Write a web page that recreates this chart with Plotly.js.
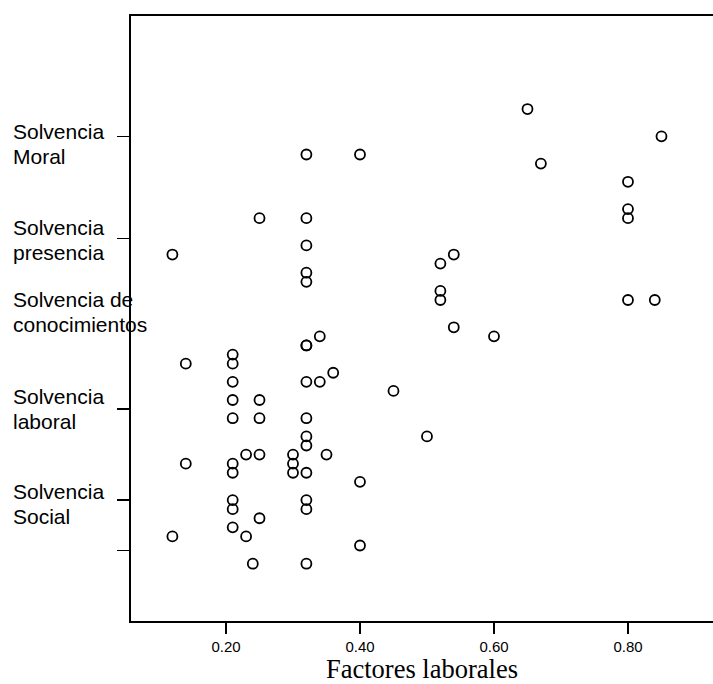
<!DOCTYPE html>
<html>
<head>
<meta charset="utf-8">
<script src="https://cdn.plot.ly/plotly-3.0.1.min.js"></script>
<style>html,body{margin:0;padding:0;background:#fff;}#chart{width:713px;height:684px;}</style>
</head>
<body>
<div id="chart"></div>
<script>
// Factores laborales (x) vs. solvencia score (y, ordinal levels)
var factoresLaborales = [
  0.65, 0.85, 0.32, 0.40, 0.67, 0.80, 0.80, 0.80, 0.25, 0.32,
  0.32, 0.12, 0.54, 0.52, 0.32, 0.32, 0.52, 0.52, 0.80, 0.84,
  0.54, 0.34, 0.60, 0.32, 0.32, 0.21, 0.14, 0.21, 0.36, 0.21,
  0.32, 0.34, 0.45, 0.21, 0.25, 0.21, 0.25, 0.32, 0.32, 0.50,
  0.32, 0.23, 0.25, 0.30, 0.35, 0.14, 0.21, 0.30, 0.21, 0.30,
  0.32, 0.40, 0.21, 0.32, 0.21, 0.32, 0.25, 0.21, 0.12, 0.23,
  0.40, 0.24, 0.32
];
var solvencia = [
  50, 47, 45, 45, 44, 42, 39, 38, 38, 38,
  35, 34, 34, 33, 32, 31, 30, 29, 29, 29,
  26, 25, 25, 24, 24, 23, 22, 22, 21, 20,
  20, 20, 19, 18, 18, 16, 16, 16, 14, 14,
  13, 12, 12, 12, 12, 11, 11, 11, 10, 10,
  10, 9, 7, 7, 6, 6, 5, 4, 3, 3,
  2, 0, 0
];
var xTickVals = [0.20, 0.40, 0.60, 0.80];
var xTickText = ["0.20", "0.40", "0.60", "0.80"];
var yTickVals = [47, 35.8, 17, 7, 1.43];
var categoryLabels = [
  ["Solvencia", "Moral"],
  ["Solvencia", "presencia"],
  ["Solvencia de", "conocimientos"],
  ["Solvencia", "laboral"],
  ["Solvencia", "Social"]
];
// vertical position (y units) of the first line of each label
var labelLineY = [47.58, 36.95, 29.06, 18.44, 7.99];
var labelLineGap = 2.75;

var annotations = [];
categoryLabels.forEach(function (lines, i) {
  lines.forEach(function (txt, j) {
    annotations.push({
      text: txt,
      xref: 'paper', yref: 'y',
      x: -0.2043, y: labelLineY[i] - j * labelLineGap,
      xanchor: 'left', yanchor: 'middle',
      showarrow: false, borderpad: 0,
      font: {family: 'Liberation Sans, Arial, sans-serif', size: 21, color: '#000'}
    });
  });
});

var trace = {
  type: 'scatter', mode: 'markers',
  x: factoresLaborales, y: solvencia,
  marker: {symbol: 'circle-open', size: 10, color: '#000', line: {width: 1.8, color: '#000'}},
  hoverinfo: 'x+y'
};

var layout = {
  width: 713, height: 684,
  margin: {l: 131, r: 0, t: 16, b: 63, pad: 0},
  paper_bgcolor: '#fff', plot_bgcolor: '#fff',
  showlegend: false,
  font: {family: 'Liberation Sans, Arial, sans-serif', color: '#000'},
  xaxis: {
    range: [0.0582, 0.9269],
    tickvals: xTickVals, ticktext: xTickText,
    ticks: 'outside', ticklen: 11, tickwidth: 1.5, tickcolor: '#000',
    showline: true, linewidth: 2, linecolor: '#000', mirror: true,
    showgrid: false, zeroline: false,
    tickfont: {size: 15, color: '#000'},
    title: {text: 'Factores laborales', standoff: 6,
            font: {family: 'Liberation Serif, Times New Roman, serif', size: 26.5, color: '#000'}}
  },
  yaxis: {
    range: [-6.30, 60.23],
    tickvals: yTickVals, ticktext: yTickVals.map(function(){return '';}),
    ticks: 'outside', ticklen: 12, tickwidth: 1.3, tickcolor: '#000',
    showline: true, linewidth: 2, linecolor: '#000', mirror: false,
    showgrid: false, zeroline: false
  },
  annotations: annotations
};

Plotly.newPlot('chart', [trace], layout, {displayModeBar: false, staticPlot: true});
</script>
</body>
</html>
